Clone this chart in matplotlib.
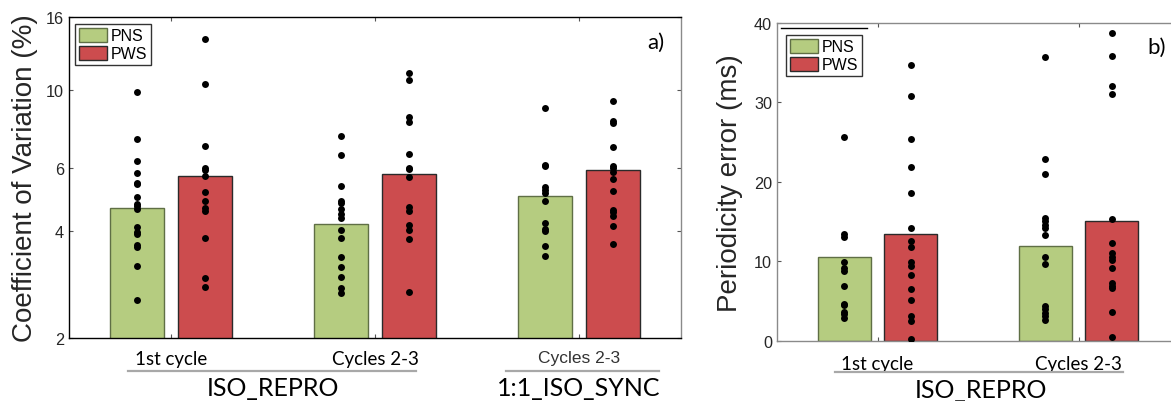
import numpy as np
import matplotlib
matplotlib.use("Agg")
import matplotlib.pyplot as plt
from matplotlib.lines import Line2D
import matplotlib.transforms as mtransforms
from matplotlib.ticker import FixedLocator, NullLocator

# ---------------- data ----------------
groups_a = ["1st cycle", "Cycles 2-3", "Cycles 2-3"]
pns_cv_mean = [4.65, 4.18, 5.02]
pws_cv_mean = [5.70, 5.78, 5.93]

pns_cv_1st = [9.82, 7.26, 6.28, 5.82, 5.47, 5.41, 4.99, 4.77, 4.69, 4.60,
              4.11, 3.97, 3.93, 3.65, 3.61, 3.19, 2.55]
pws_cv_1st = [13.88, 10.37, 6.95, 6.03, 5.95, 5.70, 5.16, 4.87, 4.63, 4.55,
              3.82, 2.95, 2.78]
pns_cv_c23 = [7.42, 6.56, 5.35, 4.86, 4.80, 4.62, 4.47, 4.36, 4.02, 3.82,
              3.37, 3.17, 2.97, 2.77, 2.68]
pws_cv_c23 = [11.13, 10.66, 8.37, 8.12, 6.57, 6.03, 5.98, 5.66, 4.66, 4.55,
              4.16, 4.03, 3.80, 2.70]
pns_cv_sync = [8.87, 6.15, 6.08, 5.33, 5.22, 5.11, 4.87, 4.20, 4.05, 3.99,
               3.62, 3.41]
pws_cv_sync = [9.30, 8.17, 8.05, 6.88, 6.11, 6.02, 5.85, 5.60, 5.19, 4.59,
               4.52, 4.42, 4.13, 3.68]

groups_b = ["1st cycle", "Cycles 2-3"]
pns_pe_mean = [10.54, 11.92]
pws_pe_mean = [13.4, 15.03]
pns_pe_1st = [25.7, 13.44, 13.1, 9.85, 9.1, 8.82, 6.85, 4.66, 4.5, 3.58, 3.32, 2.82]
pws_pe_1st = [34.7, 30.8, 25.4, 21.9, 18.6, 14.2, 12.56, 11.76, 9.95, 9.45,
              8.24, 6.55, 5.13, 3.15, 2.52, 0.2]
pns_pe_c23 = [35.7, 22.9, 21.0, 15.45, 15.03, 14.6, 14.15, 13.35, 10.5, 9.66,
              4.41, 4.0, 3.49, 3.15, 2.6]
pws_pe_c23 = [38.7, 35.9, 32.1, 31.0, 15.29, 12.27, 11.05, 10.5, 10.2, 9.2,
              7.27, 6.85, 6.6, 3.58, 0.5]

cv_ticks = [2, 4, 6, 10, 16]
pe_ticks = [0, 10, 20, 30, 40]

# ---------------- style ----------------
GREEN = "#b5cc80"
GREEN_EDGE = "#5f6f45"
RED = "#cc4c4e"
RED_EDGE = "#2a2a2a"
TICKCOL = "#262626"
OFF = 0.165
W = 0.265
SANS = ["Liberation Sans", "DejaVu Sans"]
CAL = ["Lato", "DejaVu Sans"]

fig = plt.figure(figsize=(11.71, 4.02), dpi=100)

def style_axes(ax, spine_cols):
    for k, c in spine_cols.items():
        ax.spines[k].set_color(c)
        ax.spines[k].set_linewidth(1.0)
    ax.tick_params(axis="both", direction="in", length=3, width=0.8,
                   colors="#555555", labelcolor=TICKCOL, labelsize=11.7,
                   top=True, right=True)
    for lab in ax.get_yticklabels():
        lab.set_fontfamily(SANS)

def draw_dots(ax, x, vals):
    ax.scatter(np.full(len(vals), x), vals, s=25, color="black", zorder=3,
               linewidths=0)

# ---------------- panel a ----------------
axa = fig.add_axes([69/1171, (402-339)/402, 612/1171, 321/402])
xa = np.arange(1, len(groups_a) + 1)
axa.bar(xa - OFF, pns_cv_mean, W, color=GREEN, edgecolor=GREEN_EDGE,
        linewidth=1.0, label="PNS", zorder=2)
axa.bar(xa + OFF, pws_cv_mean, W, color=RED, edgecolor=RED_EDGE,
        linewidth=1.0, label="PWS", zorder=2)
for x, p, w in zip(xa, [pns_cv_1st, pns_cv_c23, pns_cv_sync],
                   [pws_cv_1st, pws_cv_c23, pws_cv_sync]):
    draw_dots(axa, x - OFF, p)
    draw_dots(axa, x + OFF, w)
axa.set_yscale("log")
axa.set_ylim(2, 16)
axa.set_xlim(0.5, 3.5)
axa.yaxis.set_major_locator(FixedLocator(cv_ticks))
axa.yaxis.set_minor_locator(NullLocator())
axa.set_yticklabels([str(t) for t in cv_ticks])
axa.set_xticks(xa)
axa.set_xticklabels(groups_a)
style_axes(axa, {"left": "black", "bottom": "black", "top": "black",
                 "right": "#8a8a8a"})
axa.tick_params(axis="x", pad=9)
for i, lab in enumerate(axa.get_xticklabels()):
    if i < 2:
        lab.set_fontfamily(CAL); lab.set_fontsize(13.5); lab.set_color("black")
    else:
        lab.set_fontfamily(SANS); lab.set_fontsize(12.5); lab.set_color("#333333")
axa.set_ylabel("Coefficient of Variation (%)", fontsize=20, family=SANS,
               color="#262626", labelpad=6)
leg = axa.legend(loc="upper left", bbox_to_anchor=(0.0098, 0.978),
                 borderaxespad=0, prop={"family": SANS, "size": 11.5},
                 handlelength=1.75, handleheight=0.95, labelspacing=0.15,
                 handletextpad=0.25, borderpad=0.25, fancybox=False,
                 framealpha=1, edgecolor="#333333")
leg.get_frame().set_linewidth(1.0)
axa.text(0.959, 0.922, "a)", transform=axa.transAxes, ha="center", va="center",
         fontsize=16, family=CAL, color="black")

ta = mtransforms.blended_transform_factory(axa.transData, axa.transAxes)
axa.add_line(Line2D([0.79, 2.2], [-0.102, -0.102], transform=ta, color="#a8a8a8",
                    linewidth=1.6, clip_on=False))
axa.add_line(Line2D([2.64, 3.39], [-0.102, -0.102], transform=ta, color="#a8a8a8",
                    linewidth=1.6, clip_on=False))
axa.text(1.5, -0.153, "ISO_REPRO", transform=ta, ha="center", va="center",
         fontsize=18, family=CAL, color="black")
axa.text(3.0, -0.153, "1:1_ISO_SYNC", transform=ta, ha="center", va="center",
         fontsize=18, family=CAL, color="black")

# ---------------- panel b ----------------
axb = fig.add_axes([777/1171, (402-341.7)/402, 394/1171, 317.7/402])
xb = np.arange(1, len(groups_b) + 1)
axb.bar(xb - OFF, pns_pe_mean, W, color=GREEN, edgecolor=GREEN_EDGE,
        linewidth=1.0, label="PNS", zorder=2)
axb.bar(xb + OFF, pws_pe_mean, W, color=RED, edgecolor=RED_EDGE,
        linewidth=1.0, label="PWS", zorder=2)
for x, p, w in zip(xb, [pns_pe_1st, pns_pe_c23], [pws_pe_1st, pws_pe_c23]):
    draw_dots(axb, x - OFF, p)
    draw_dots(axb, x + OFF, w)
axb.set_ylim(0, 40)
axb.set_xlim(0.5, 2.46)
axb.set_yticks(pe_ticks)
axb.set_xticks(xb)
axb.set_xticklabels(groups_b)
style_axes(axb, {"left": "#8a8a8a", "bottom": "#8a8a8a", "top": "#8a8a8a",
                 "right": "#8a8a8a"})
axb.spines["right"].set_visible(False)
axb.tick_params(axis="y", right=False)
axb.tick_params(axis="x", pad=10)
for lab in axb.get_xticklabels():
    lab.set_fontfamily(CAL); lab.set_fontsize(13.5); lab.set_color("black")
axb.set_ylabel("Periodicity error (ms)", fontsize=20, family=SANS,
               color="#262626", labelpad=8)
legb = axb.legend(loc="upper left", bbox_to_anchor=(0.0228, 0.962),
                  borderaxespad=0, prop={"family": SANS, "size": 11.5},
                  handlelength=1.75, handleheight=0.95, labelspacing=0.15,
                  handletextpad=0.25, borderpad=0.25, fancybox=False,
                  framealpha=1, edgecolor="#333333")
legb.get_frame().set_linewidth(1.0)
axb.text(0.964, 0.924, "b)", transform=axb.transAxes, ha="center", va="center",
         fontsize=16, family=CAL, color="black")
axb.add_line(Line2D([0.01, 0.228], [0.984, 0.984], transform=axb.transAxes,
                    color="black", linewidth=1.0, clip_on=False))
tb = mtransforms.blended_transform_factory(axb.transData, axb.transAxes)
axb.add_line(Line2D([0.79, 2.22], [-0.0995, -0.0995], transform=tb, color="#a8a8a8",
                    linewidth=1.6, clip_on=False))
axb.text(1.515, -0.153, "ISO_REPRO", transform=tb, ha="center", va="center",
         fontsize=18, family=CAL, color="black")

fig.savefig("out.png", dpi=100)
